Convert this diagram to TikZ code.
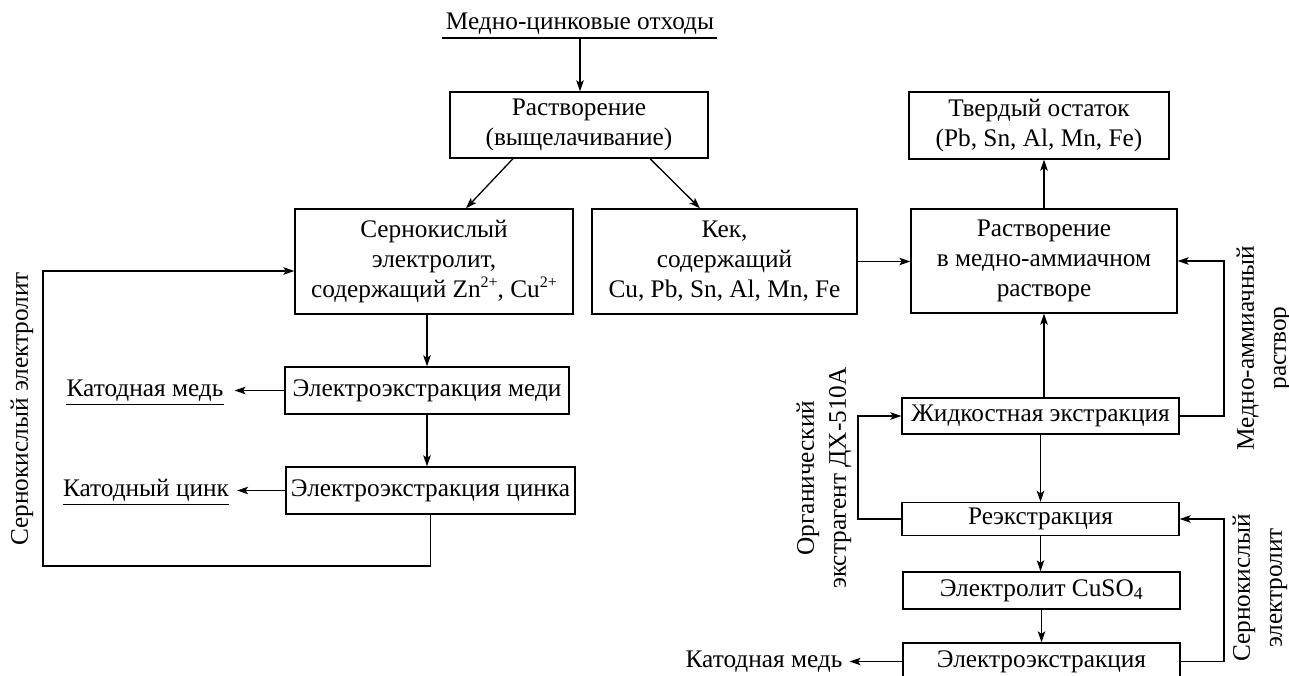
\documentclass[tikz,border=0pt]{standalone}
\usepackage{fontspec}
\setmainfont{Liberation Serif}
\usetikzlibrary{arrows.meta,calc}
\newcommand{\sups}[1]{\raisebox{10pt}{\fontsize{16}{16}\selectfont #1}}
\begin{document}
\begin{tikzpicture}[x=1pt,y=-1pt,
  every node/.style={font=\fontsize{25.3}{30}\selectfont},
  box/.style={draw, line width=1.3pt, rectangle, align=center, inner sep=0pt},
  lbl/.style={inner sep=0pt, align=center},
  rlbl/.style={inner sep=0pt, align=center, rotate=90, font=\fontsize{25.3}{32}\selectfont},
  arr/.style={line width=1.3pt, -{Stealth[length=11pt,width=7.5pt,inset=2.5pt]}},
  ln/.style={line width=1.3pt}]
\useasboundingbox (0,0) rectangle (1289,676);
% boxes
\node[lbl, anchor=base] (src) at (580,30) {Медно-цинковые отходы};
\node[box, minimum width=258pt, minimum height=66pt] (rast) at (579,125) {Растворение\\(выщелачивание)};
\node[box, minimum width=278pt, minimum height=105pt] (sern) at (434,261.5) {Сернокислый\\электролит,\\содержащий Zn\sups{2+}, Cu\sups{2+}};
\node[box, minimum width=265pt, minimum height=105pt] (kek) at (724.5,261.5) {Кек,\\содержащий\\Cu, Pb, Sn, Al, Mn, Fe};
\node[box, minimum width=260pt, minimum height=67pt] (tverd) at (1039,125.5) {Твердый остаток\\(Pb, Sn, Al, Mn, Fe)};
\node[box, minimum width=266pt, minimum height=104pt] (rastam) at (1044,261) {Растворение\\в медно-аммиачном\\растворе};
\node[box, minimum width=284pt, minimum height=47pt] (eem) at (427,390.5) {Электроэкстракция меди};
\node[box, minimum width=289pt, minimum height=47pt] (eez) at (430.5,490.5) {Электроэкстракция цинка};
\node[box, minimum width=277pt, minimum height=36pt] (zhid) at (1040.5,416) {Жидкостная экстракция};
\node[box, minimum width=277pt, minimum height=33pt] (reex) at (1040.5,519) {Реэкстракция};
\node[box, minimum width=277pt, minimum height=37pt] (cuso) at (1041.5,590.5) {Электролит CuSO\textsubscript{4}};
\node[box, minimum width=277pt, minimum height=37pt] (eecu) at (1041.5,661.5) {Электроэкстракция};
% labels
\node[lbl] (km1) at (145,390.5) {Катодная медь};
\node[lbl] (kz) at (146,490.5) {Катодный цинк};
\node[lbl] (km2) at (764,661.5) {Катодная медь};
\node[rlbl] (sel) at (22,409) {Сернокислый электролит};
\node[rlbl] (mar) at (1264,348) {Медно-аммиачный\\раствор};
\node[rlbl] (org) at (824,478) {Органический\\экстрагент ДХ-510А};
\node[rlbl] (ser) at (1260,588) {Сернокислый\\электролит};
% underlines
\draw[ln] ([yshift=-8pt,xshift=-4pt]src.base west) -- ([yshift=-8pt,xshift=3pt]src.base east);
\draw[ln] ([yshift=-8pt]km1.base west) -- ([yshift=-8pt]km1.base east);
\draw[ln] ([yshift=-8pt]kz.base west) -- ([yshift=-8pt]kz.base east);
% connectors
\coordinate (srcu) at ([yshift=-8pt]src.base);
\coordinate (lb) at (43,566);
\coordinate (xr) at (1224,0);
\coordinate (xl) at (858,0);
\draw[arr] (srcu) -- (srcu |- rast.north);
\draw[arr] ([xshift=-66pt]rast.south) -- ([xshift=32pt]sern.north);
\draw[arr] ([xshift=71pt]rast.south) -- ([xshift=-24.5pt]kek.north);
\draw[arr] (sern.south -| eem.north) -- (eem.north);
\draw[arr] (eem.south) -- (eem.south |- eez.north);
\draw[arr] (eez.south) |- (lb) |- ([yshift=-9.5pt]sern.west);
\draw[arr] (eem.west) -- ([xshift=11pt]km1.east);
\draw[arr] (eez.west) -- ([xshift=8pt]kz.east);
\draw[arr] (kek.east) -- (kek.east -| rastam.west);
\draw[arr] (rastam.north) -- (rastam.north |- tverd.south);
\draw[arr] (zhid.north -| rastam.south) -- (rastam.south);
\draw[arr] (zhid.south) -- (zhid.south |- reex.north);
\draw[arr] (reex.south) -- (reex.south |- cuso.north);
\draw[arr] (cuso.south) -- (cuso.south |- eecu.north);
\draw[arr] (zhid.east) -- (zhid.east -| xr) |- (rastam.east);
\draw[arr] (eecu.east) -- (eecu.east -| xr) |- (reex.east);
\draw[arr] (reex.west) -- (reex.west -| xl) |- (zhid.west);
\draw[arr] (eecu.west) -- ([xshift=7pt]km2.east);
\end{tikzpicture}
\end{document}
